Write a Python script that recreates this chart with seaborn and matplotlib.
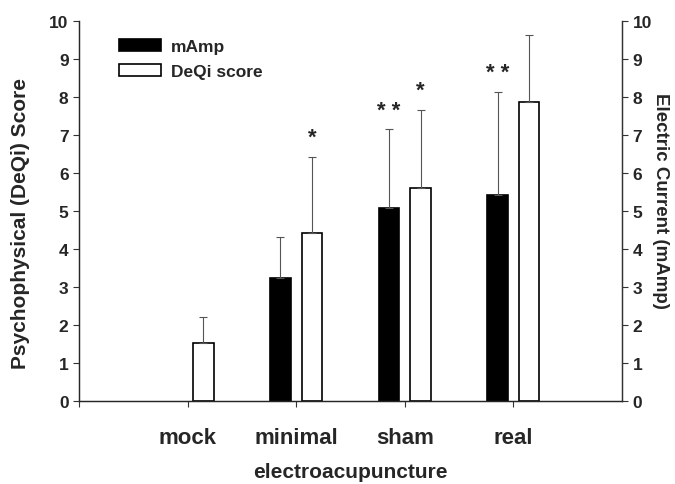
import numpy as np
import pandas as pd
import matplotlib
matplotlib.use("Agg")
import matplotlib.pyplot as plt
import seaborn as sns

categories = ["mock", "minimal", "sham", "real"]
series = ["mAmp", "DeQi score"]
mamp = [0.0, 3.24, 5.07, 5.43]
mamp_err = [0.0, 1.08, 2.08, 2.71]
deqi = [1.53, 4.41, 5.61, 7.86]
deqi_err = [0.69, 2.02, 2.06, 1.78]
mamp_stars = ["", "", "* *", "* *"]
deqi_stars = ["", "*", "*", ""]

df = pd.DataFrame({
    "group": categories * 2,
    "series": [series[0]] * 4 + [series[1]] * 4,
    "value": mamp + deqi,
})

sns.set_style("ticks")
plt.rcParams["font.family"] = ["Liberation Sans", "DejaVu Sans"]
plt.rcParams["font.weight"] = "bold"

fig = plt.figure(figsize=(6.75, 4.85), dpi=100)
ax = fig.add_axes([0.117, 0.171, 0.8045, 0.7836])

sns.barplot(data=df, x="group", y="value", hue="series", order=categories,
            hue_order=series, palette=["black", "white"], edgecolor="black",
            linewidth=1.2, width=0.58, gap=0.345, errorbar=None, ax=ax)

errs = [mamp_err, deqi_err]
stars = [mamp_stars, deqi_stars]
for cont, err, st in zip(ax.containers, errs, stars):
    for bar, e, s in zip(cont, err, st):
        x = bar.get_x() + bar.get_width() / 2
        top = bar.get_height()
        if top == 0:
            bar.set_linewidth(0)
        if e > 0:
            ax.errorbar(x, top, yerr=[[0], [e]], fmt="none", ecolor="#555555",
                        elinewidth=0.8, capsize=3, capthick=0.8, zorder=1)
        if s:
            ax.text(x, top + e + 0.5, s, ha="center", va="center",
                    fontsize=16, fontweight="bold")

ax.set_xlim(-1, 4)
ax.set_ylim(0, 10)
ax.set_yticks(range(0, 11))
ax.set_xticks(range(-1, 4))
ax.set_xticklabels([""] + categories, fontsize=16, fontweight="bold")
ax.tick_params(axis="x", pad=15, length=4, color="#333333")
ax.tick_params(axis="y", labelsize=12.5, length=4, color="#333333")
for lab in ax.get_yticklabels():
    lab.set_fontweight("bold")
ax.set_xlabel("electroacupuncture", fontsize=15, fontweight="bold", labelpad=10)
ax.set_ylabel("Psychophysical (DeQi) Score", fontsize=15, fontweight="bold")
ax.yaxis.set_label_coords(-0.09, 0.47)
ax.spines["top"].set_visible(False)
for sp in ["left", "bottom", "right"]:
    ax.spines[sp].set_color("#333333")
    ax.spines[sp].set_linewidth(1.0)

ax2 = ax.twinx()
ax2.set_ylim(0, 10)
ax2.set_yticks(range(0, 11))
ax2.tick_params(axis="y", labelsize=12.5, length=4, color="#333333")
for lab in ax2.get_yticklabels():
    lab.set_fontweight("bold")
ax2.set_ylabel("Electric Current (mAmp)", fontsize=13.5, fontweight="bold",
               rotation=270, va="bottom")
ax2.yaxis.set_label_coords(1.055, 0.53)
ax2.spines["top"].set_visible(False)
ax2.spines["right"].set_color("#333333")

handles, labels = ax.get_legend_handles_labels()
ax.legend(handles, labels, loc="upper left", bbox_to_anchor=(0.045, 0.993),
          frameon=False, handlelength=2.4, handleheight=0.65, handletextpad=0.6,
          prop={"size": 12.5, "weight": "bold"}, labelspacing=0.55)

fig.savefig("out.png", dpi=100)
